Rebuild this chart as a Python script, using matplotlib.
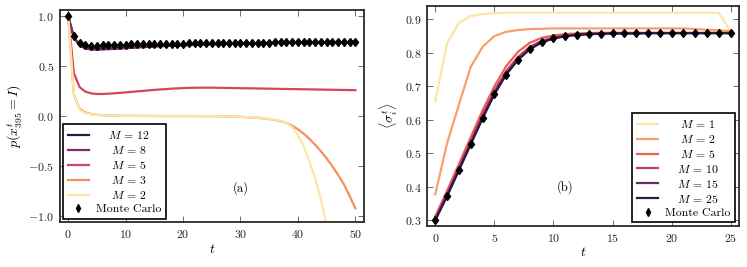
import numpy as np
import matplotlib
matplotlib.use("Agg")
import matplotlib.pyplot as plt

plt.rcParams["font.family"] = "serif"
plt.rcParams["font.serif"] = ["cmr10", "DejaVu Serif"]
plt.rcParams["mathtext.fontset"] = "cm"
plt.rcParams["axes.formatter.use_mathtext"] = True

# ---------------- panel (a) data ----------------
t_a = np.arange(0, 51)
mc_a = [1.0, 0.80, 0.735, 0.715, 0.705, 0.705, 0.707, 0.709, 0.711, 0.713,
        0.715, 0.716, 0.717, 0.718, 0.719, 0.720, 0.721, 0.722, 0.723, 0.724,
        0.725, 0.726, 0.727, 0.727, 0.728, 0.729, 0.730, 0.730, 0.731, 0.732,
        0.732, 0.733, 0.734, 0.734, 0.735, 0.735, 0.736, 0.737, 0.737, 0.738,
        0.738, 0.739, 0.739, 0.740, 0.740, 0.741, 0.741, 0.742, 0.742, 0.743,
        0.743]
m12_a = [1.0, 0.79, 0.71, 0.68, 0.672, 0.670, 0.672, 0.675, 0.678, 0.681,
         0.684, 0.687, 0.690, 0.693, 0.696, 0.699, 0.702, 0.704, 0.706, 0.708,
         0.710, 0.712, 0.714, 0.716, 0.718, 0.720, 0.722, 0.723, 0.725, 0.726,
         0.727, 0.728, 0.729, 0.730, 0.731, 0.732, 0.733, 0.734, 0.735, 0.735,
         0.736, 0.737, 0.737, 0.738, 0.738, 0.739, 0.739, 0.740, 0.740, 0.741,
         0.741]
m8_a = [1.0, 0.785, 0.705, 0.675, 0.666, 0.664, 0.666, 0.669, 0.672, 0.675,
        0.679, 0.682, 0.686, 0.689, 0.692, 0.695, 0.698, 0.701, 0.703, 0.705,
        0.707, 0.709, 0.711, 0.713, 0.715, 0.717, 0.719, 0.720, 0.722, 0.723,
        0.724, 0.725, 0.726, 0.727, 0.728, 0.729, 0.730, 0.731, 0.732, 0.733,
        0.734, 0.735, 0.735, 0.736, 0.736, 0.737, 0.737, 0.738, 0.738, 0.739,
        0.739]
m5_a = [1.0, 0.43, 0.29, 0.245, 0.228, 0.222, 0.222, 0.225, 0.229, 0.233,
        0.238, 0.243, 0.248, 0.253, 0.258, 0.263, 0.267, 0.271, 0.275, 0.278,
        0.281, 0.283, 0.284, 0.285, 0.285, 0.285, 0.284, 0.283, 0.282, 0.281,
        0.280, 0.279, 0.278, 0.277, 0.276, 0.275, 0.274, 0.273, 0.272, 0.271,
        0.270, 0.269, 0.268, 0.267, 0.266, 0.265, 0.264, 0.263, 0.262, 0.261,
        0.260]
m3_a = [1.0, 0.21, 0.075, 0.038, 0.022, 0.014, 0.010, 0.008, 0.006, 0.005,
        0.004, 0.004, 0.003, 0.003, 0.003, 0.002, 0.002, 0.002, 0.002, 0.002,
        0.002, 0.002, 0.002, 0.001, 0.001, 0.001, 0.0, 0.0, -0.002, -0.004,
        -0.006, -0.009, -0.012, -0.016, -0.021, -0.028, -0.037, -0.05, -0.068,
        -0.095, -0.13, -0.175, -0.225, -0.285, -0.35, -0.42, -0.5, -0.585,
        -0.68, -0.795, -0.92]
m2_a = [1.0, 0.22, 0.065, 0.032, 0.018, 0.012, 0.009, 0.007, 0.006, 0.005,
        0.004, 0.004, 0.003, 0.003, 0.003, 0.002, 0.002, 0.002, 0.002, 0.002,
        0.002, 0.002, 0.002, 0.001, 0.001, 0.001, 0.0, 0.0, -0.001, -0.003,
        -0.005, -0.007, -0.010, -0.014, -0.019, -0.026, -0.035, -0.048, -0.068,
        -0.11, -0.19, -0.3, -0.45, -0.62, -0.83, -1.1]

# ---------------- panel (b) data ----------------
t_b = np.arange(0, 26)
mc_b = [0.300, 0.372, 0.449, 0.527, 0.604, 0.676, 0.735, 0.779, 0.811, 0.831,
        0.843, 0.850, 0.854, 0.856, 0.857, 0.858, 0.858, 0.858, 0.859, 0.859,
        0.859, 0.859, 0.859, 0.859, 0.859, 0.859]
m1_b = [0.655, 0.828, 0.890, 0.910, 0.916, 0.919, 0.920, 0.920, 0.920, 0.920,
        0.920, 0.920, 0.920, 0.920, 0.920, 0.920, 0.920, 0.920, 0.920, 0.920,
        0.920, 0.920, 0.920, 0.920, 0.919, 0.864]
m2_b = [0.378, 0.530, 0.645, 0.758, 0.818, 0.850, 0.863, 0.868, 0.871, 0.872,
        0.873, 0.873, 0.873, 0.873, 0.873, 0.873, 0.873, 0.873, 0.873, 0.873,
        0.873, 0.873, 0.871, 0.869, 0.867, 0.865]
m5_b = [0.312, 0.388, 0.468, 0.548, 0.628, 0.700, 0.760, 0.803, 0.830, 0.845,
        0.852, 0.856, 0.858, 0.859, 0.860, 0.860, 0.860, 0.860, 0.860, 0.860,
        0.860, 0.860, 0.860, 0.860, 0.860, 0.860]
m10_b = [0.305, 0.380, 0.458, 0.537, 0.615, 0.687, 0.745, 0.788, 0.818, 0.836,
         0.846, 0.852, 0.855, 0.857, 0.858, 0.859, 0.859, 0.859, 0.859, 0.859,
         0.859, 0.859, 0.859, 0.859, 0.859, 0.859]
m15_b = [0.301, 0.374, 0.451, 0.529, 0.606, 0.678, 0.737, 0.780, 0.812, 0.832,
         0.843, 0.850, 0.854, 0.856, 0.857, 0.858, 0.858, 0.858, 0.859, 0.859,
         0.859, 0.859, 0.859, 0.859, 0.859, 0.859]
m25_b = [0.300, 0.372, 0.449, 0.527, 0.604, 0.676, 0.735, 0.779, 0.811, 0.831,
         0.843, 0.850, 0.854, 0.856, 0.857, 0.858, 0.858, 0.858, 0.859, 0.859,
         0.859, 0.859, 0.859, 0.859, 0.859, 0.859]

labels_a = [r"$M\,=\,12$", r"$M\,=\,8$", r"$M\,=\,5$", r"$M\,=\,3$",
            r"$M\,=\,2$"]
colors_a = ["#2d1a40", "#7e2a6e", "#d4465f", "#f58f5e", "#fde5a5"]
labels_b = [r"$M\,=\,1$", r"$M\,=\,2$", r"$M\,=\,5$", r"$M\,=\,10$",
            r"$M\,=\,15$", r"$M\,=\,25$"]
colors_b = ["#fde5a5", "#f8a06c", "#ea6352", "#c33a66", "#6f2673", "#2d1a47"]


def style_axes(ax):
    for sp in ax.spines.values():
        sp.set_linewidth(1.3)
        sp.set_color("#2a2a2a")
    ax.tick_params(direction="in", top=True, right=True, length=4,
                   width=0.6, color="#555555", labelsize=8.5, pad=4,
                   labelcolor="#222222")


def center_legend_texts(fig, leg):
    # legend texts in the original are centred in their column
    fig.canvas.draw()
    widths = [tx.get_window_extent().width for tx in leg.get_texts()]
    wmax = max(widths)
    for tx, w in zip(leg.get_texts(), widths):
        tx.set_x(tx.get_position()[0] + (wmax - w) / 2)


fig = plt.figure(figsize=(7.47, 2.67), dpi=100)
ax1 = fig.add_axes([0.0797, 0.1667, 0.4076, 0.7959])
ax2 = fig.add_axes([0.5716, 0.1536, 0.4177, 0.824])

# panel (a)
series_a = [m12_a, m8_a, m5_a, m3_a, m2_a]
for vals, lab, col in zip(series_a, labels_a, colors_a):
    ax1.plot(t_a[:len(vals)], vals, color=col, lw=1.6, label=lab)
ax1.plot(t_a, mc_a, ls="none", marker="d", color="black", ms=4.5,
         label="Monte Carlo")
ax1.set_xlim(-1.5, 51.5)
ax1.set_ylim(-1.06, 1.06)
ax1.set_xticks([0, 10, 20, 30, 40, 50])
ax1.set_yticks([-1.0, -0.5, 0.0, 0.5, 1.0])
ax1.set_xlabel("$t$", fontsize=10, labelpad=2)
ax1.set_ylabel("$p(x^t_{395} = I)$", fontsize=10, labelpad=3)
ax1.text(30, -0.72, "(a)", fontsize=9, ha="center", va="center")
style_axes(ax1)
leg1 = ax1.legend(loc="lower left", fontsize=8.5, handlelength=1.8,
                  handletextpad=0.6, labelspacing=0.25, borderpad=0.4,
                  borderaxespad=0.3, fancybox=False, framealpha=1,
                  edgecolor="black", numpoints=1, markerscale=0.8)
leg1.get_frame().set_linewidth(1.2)

# panel (b)
series_b = [m1_b, m2_b, m5_b, m10_b, m15_b, m25_b]
for vals, lab, col in zip(series_b, labels_b, colors_b):
    ax2.plot(t_b, vals, color=col, lw=1.6, label=lab)
ax2.plot(t_b, mc_b, ls="none", marker="d", color="black", ms=4.5,
         label="Monte Carlo")
ax2.set_xlim(-0.7, 25.7)
ax2.set_ylim(0.283, 0.94)
ax2.set_xticks([0, 5, 10, 15, 20, 25])
ax2.set_yticks([0.3, 0.4, 0.5, 0.6, 0.7, 0.8, 0.9])
ax2.set_xlabel("$t$", fontsize=10, labelpad=2)
ax2.set_ylabel(r"$\langle \sigma^t_i \rangle$", fontsize=10, labelpad=3)
ax2.text(11, 0.40, "(b)", fontsize=9, ha="center", va="center")
style_axes(ax2)
leg2 = ax2.legend(loc="lower right", fontsize=8.5, handlelength=1.8,
                  handletextpad=0.6, labelspacing=0.25, borderpad=0.4,
                  borderaxespad=0.3, fancybox=False, framealpha=1,
                  edgecolor="black", numpoints=1, markerscale=0.8)
leg2.get_frame().set_linewidth(1.2)

center_legend_texts(fig, leg1)
center_legend_texts(fig, leg2)

fig.savefig("out.png", dpi=100)
